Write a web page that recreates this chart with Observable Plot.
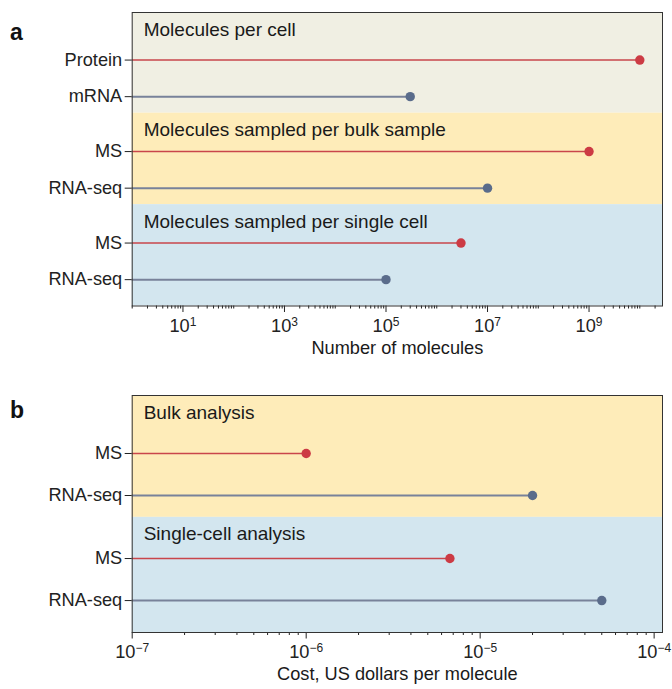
<!DOCTYPE html>
<html>
<head>
<meta charset="utf-8">
<script src="https://cdn.jsdelivr.net/npm/d3@7"></script>
<script src="https://cdn.jsdelivr.net/npm/@observablehq/plot@0.6"></script>
<style>
  html, body { margin: 0; padding: 0; background: #fff; }
  #wrap { position: relative; width: 672px; height: 689px; overflow: hidden; }
  #wrap > svg, #wrap > div { position: absolute; left: 0; }
</style>
</head>
<body>
<div id="wrap"></div>
<script>
// ---------- data ----------
const aGroups = ["Molecules per cell", "Molecules sampled per bulk sample", "Molecules sampled per single cell"];
const aLabels = [["Protein", "mRNA"], ["MS", "RNA-seq"], ["MS", "RNA-seq"]];
const aValues = [[1e10, 3e5], [1e9, 1e7], [3e6, 1e5]];
const aTicks = [1e1, 1e3, 1e5, 1e7, 1e9];
const aTickLabels = ["10^1", "10^3", "10^5", "10^7", "10^9"];
const aTitle = "Number of molecules";

const bGroups = ["Bulk analysis", "Single-cell analysis"];
const bLabels = [["MS", "RNA-seq"], ["MS", "RNA-seq"]];
const bValues = [[1e-6, 2e-5], [6.7e-6, 5e-5]];
const bTicks = [1e-7, 1e-6, 1e-5, 1e-4];
const bTickLabels = ["10^-7", "10^-6", "10^-5", "10^-4"];
const bTitle = "Cost, US dollars per molecule";

const kinds = ["protein", "rna"]; // first row of each group: protein (MS), second: RNA

// ---------- styles ----------
const FONT = "'Liberation Sans', Arial, sans-serif";
const FS = 18.2;
const FSH = 19;
const bandFill = {
  "Molecules per cell": "#f0efe3",
  "Molecules sampled per bulk sample": "#feecb9",
  "Molecules sampled per single cell": "#d3e6ef",
  "Bulk analysis": "#feecb9",
  "Single-cell analysis": "#d3e6ef"
};
const lineColor = {protein: "#c9464b", rna: "#78829a"};
const lineWidth = {protein: 1.6, rna: 2};
const dotColor = {protein: "#cc3b44", rna: "#5a6c8b"};

function superscript(svg) {
  const ns = "http://www.w3.org/2000/svg";
  svg.querySelectorAll('g[aria-label="x-axis tick label"] text').forEach(t => {
    const m = /^10\^(.+)$/.exec(t.textContent);
    if (!m) return;
    t.textContent = "";
    const a = document.createElementNS(ns, "tspan");
    a.textContent = "10";
    const b = document.createElementNS(ns, "tspan");
    b.textContent = m[1].replace("-", "\u2212");
    b.setAttribute("dy", "-0.5em");
    b.setAttribute("font-size", "66%");
    t.appendChild(a); t.appendChild(b);
  });
}

function logMinorTicks([lo, hi]) {
  const out = [];
  for (let p = Math.floor(Math.log10(lo)); p <= Math.ceil(Math.log10(hi)); p++) {
    for (let k = 1; k <= 9; k++) {
      const v = k * Math.pow(10, p);
      if (v >= lo * 0.999 && v <= hi * 1.001) out.push(v);
    }
  }
  return out;
}

function panel({groups, labels, values, xDomain, ticks, tickLabels, title,
                padTop, padBottom, bandLead, marginTop, marginBottom, height, tickPad, titleDy}) {
  const rows = [];
  let idx = 0;
  groups.forEach((g, gi) => {
    labels[gi].forEach((lab, j) => {
      rows.push({group: g, label: lab, value: values[gi][j], kind: kinds[j], pos: idx + gi * 0.5});
      idx++;
    });
  });
  const firstPos = g => rows.find(r => r.group === g).pos;
  const yMin = rows[0].pos - padTop;
  const yMax = rows.at(-1).pos + padBottom;
  const bands = groups.map((g, gi) => ({
    name: g,
    top: gi === 0 ? yMin : firstPos(g) - bandLead,
    bottom: gi === groups.length - 1 ? yMax : firstPos(groups[gi + 1]) - bandLead
  }));
  const labelByPos = new Map(rows.map(r => [r.pos, r.label]));
  const tickText = new Map(ticks.map((t, i) => [t, tickLabels[i]]));
  const minor = logMinorTicks(xDomain).filter(v => !ticks.some(t => Math.abs(t - v) / t < 1e-9));

  const svg = Plot.plot({
    width: 672, height, marginLeft: 131.7, marginRight: 10, marginTop, marginBottom,
    style: {fontFamily: FONT, fontSize: FS + "px", color: "#222", background: "transparent", overflow: "visible"},
    x: {type: "log", domain: xDomain},
    y: {domain: [yMin, yMax], reverse: true},
    marks: [
      ...bands.map(b => Plot.rect([b], {x1: () => xDomain[0], x2: () => xDomain[1], y1: "top", y2: "bottom", fill: bandFill[b.name]})),
      ...kinds.map(k => Plot.ruleY(rows.filter(r => r.kind === k), {y: "pos", x1: () => xDomain[0], x2: "value", stroke: lineColor[k], strokeWidth: lineWidth[k]})),
      ...kinds.map(k => Plot.dot(rows.filter(r => r.kind === k), {x: "value", y: "pos", r: 4.7, fill: dotColor[k], stroke: "none"})),
      Plot.text(bands, {x: () => xDomain[0], y: "top", text: "name", textAnchor: "start", dx: 11.5, dy: 17, fontSize: FSH, fill: "#1a1a1a"}),
      Plot.axisY(rows.map(r => r.pos), {tickFormat: p => labelByPos.get(p), tickSize: 7, tickPadding: 3, fontSize: FS, label: null}),
      Plot.axisX(minor, {tickSize: 3, tickFormat: () => "", label: null}),
      Plot.axisX(ticks, {tickSize: 6.5, tickPadding: tickPad, tickFormat: t => tickText.get(t), fontSize: FS, label: null}),
      Plot.frame({stroke: "#333", strokeWidth: 1}),
      Plot.text([title], {frameAnchor: "bottom", dy: titleDy, fontSize: FS, fill: "#1a1a1a"})
    ]
  });
  superscript(svg);
  return svg;
}

const wrap = document.getElementById("wrap");

const svgA = panel({
  groups: aGroups, labels: aLabels, values: aValues,
  xDomain: [1, 2.8e10], ticks: aTicks, tickLabels: aTickLabels, title: aTitle,
  padTop: 1.30, padBottom: 0.72, bandLead: 1.05, marginTop: 12, marginBottom: 64.5, height: 370,
  tickPad: 7, titleDy: 48
});
svgA.style.top = "0px";
wrap.appendChild(svgA);

const svgB = panel({
  groups: bGroups, labels: bLabels, values: bValues,
  xDomain: [1e-7, 1.117e-4], ticks: bTicks, tickLabels: bTickLabels, title: bTitle,
  padTop: 1.38, padBottom: 0.76, bandLead: 0.98, marginTop: 25, marginBottom: 57, height: 319,
  tickPad: 6, titleDy: 47
});
svgB.style.top = "370px";
wrap.appendChild(svgB);

// panel letters
const ns = "http://www.w3.org/2000/svg";
const over = document.createElementNS(ns, "svg");
over.setAttribute("width", 672); over.setAttribute("height", 689);
over.style.top = "0px"; over.style.pointerEvents = "none";
[["a", 39.5], ["b", 418]].forEach(([s, y]) => {
  const t = document.createElementNS(ns, "text");
  t.setAttribute("x", 10); t.setAttribute("y", y);
  t.setAttribute("font-family", "'Liberation Sans', Arial, sans-serif");
  t.setAttribute("font-weight", "bold"); t.setAttribute("font-size", 23);
  t.setAttribute("fill", "#111");
  t.textContent = s;
  over.appendChild(t);
});
wrap.appendChild(over);
</script>
</body>
</html>
